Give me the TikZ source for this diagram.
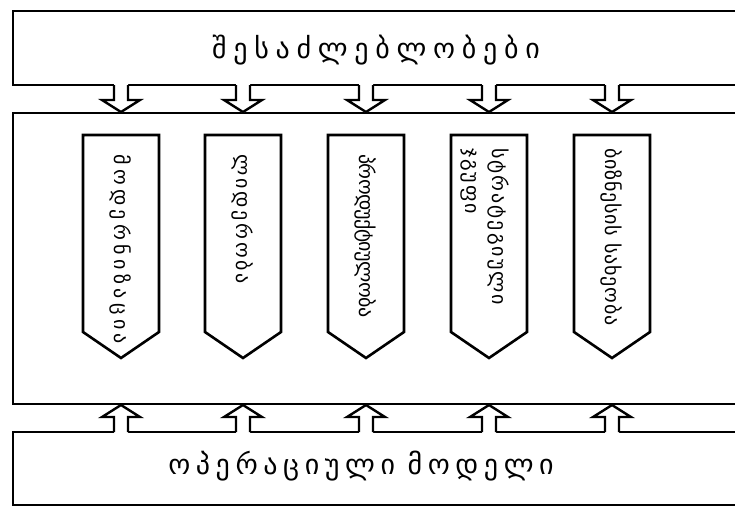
\documentclass[tikz,border=0pt]{standalone}
\usepackage{fontspec}
\newfontfamily\geobig[LetterSpace=24]{DejaVu Sans}
\newfontfamily\geobot[LetterSpace=20]{DejaVu Sans}
\newfontfamily\geosmall{DejaVu Sans}
\begin{document}
\begin{tikzpicture}[x=1pt,y=-1pt,
  frame/.style={line width=2.6pt, line join=miter, line cap=butt},
  colbox/.style={line width=2.6pt, line join=miter, fill=white},
  arrowline/.style={line width=2.4pt, line join=miter},
  bigtext/.style={font=\geobig\fontsize{28}{32}\selectfont, inner sep=0pt},
  bottext/.style={font=\geobot\fontsize{28}{32}\selectfont, inner sep=0pt},
  coltext/.style={font=\geosmall\fontsize{20}{27}\selectfont, rotate=-90, anchor=west, inner sep=0pt, align=left},
  sp/.style={font=\geosmall\fontsize{20}{27}\selectfont\addfontfeatures{LetterSpace=#1}}]
\useasboundingbox (0,0) rectangle (735,507);
\fill[white] (0,0) rectangle (735,507);
% frames
\draw[frame] (745,11) -- (13,11) -- (13,85) -- (745,85);
\draw[frame] (745,113) -- (13,113) -- (13,404) -- (745,404);
\draw[frame] (745,432) -- (13,432) -- (13,505) -- (745,505);
\node[bigtext] (top) at (376,50) {შესაძლებლობები};
\node[bottext] (bottom) at (361,466) {ოპერაციული\hspace{0.45em}მოდელი};
% arrows
\foreach \x in {121,243,366,489,612}{
  \fill[white] (\x-7,83) -- (\x-7,100) -- (\x-19,100) -- (\x,113) -- (\x+19,100) -- (\x+7,100) -- (\x+7,83) -- cycle;
  \draw[arrowline] (\x-7,85) -- (\x-7,100) -- (\x-19,100) -- (\x,112) -- (\x+19,100) -- (\x+7,100) -- (\x+7,85);
  \fill[white] (\x-7,434) -- (\x-7,417) -- (\x-19,417) -- (\x,405) -- (\x+19,417) -- (\x+7,417) -- (\x+7,434) -- cycle;
  \draw[arrowline] (\x-7,432) -- (\x-7,417) -- (\x-19,417) -- (\x,405) -- (\x+19,417) -- (\x+7,417) -- (\x+7,432);
}
% columns
\foreach \x/\n in {121/c1,243/c2,366/c3,489/c4,612/c5}{
  \draw[colbox] (\x-38,135) -- (\x+38,135) -- (\x+38,332) -- (\x,358) -- (\x-38,332) -- cycle;
  \coordinate (\n) at (\x,154);
}
\node[coltext,sp=22] (t1) at (c1) {მოდერნიზაცია};
\node[coltext,sp=14] (t2) at (c2) {ლიდერობა};
\node[coltext,sp=-3] (t3) at (c3) {პროდუქტიულობა};
\node[coltext,sp=10] (t4) at ([xshift=-4pt,yshift=6pt]c4) {სტრატეგიული\\ჯგუფი};
\node[coltext,sp=4] (t5) at ([yshift=6pt]c5) {ბიზნესის სახეობა};
\end{tikzpicture}
\end{document}
